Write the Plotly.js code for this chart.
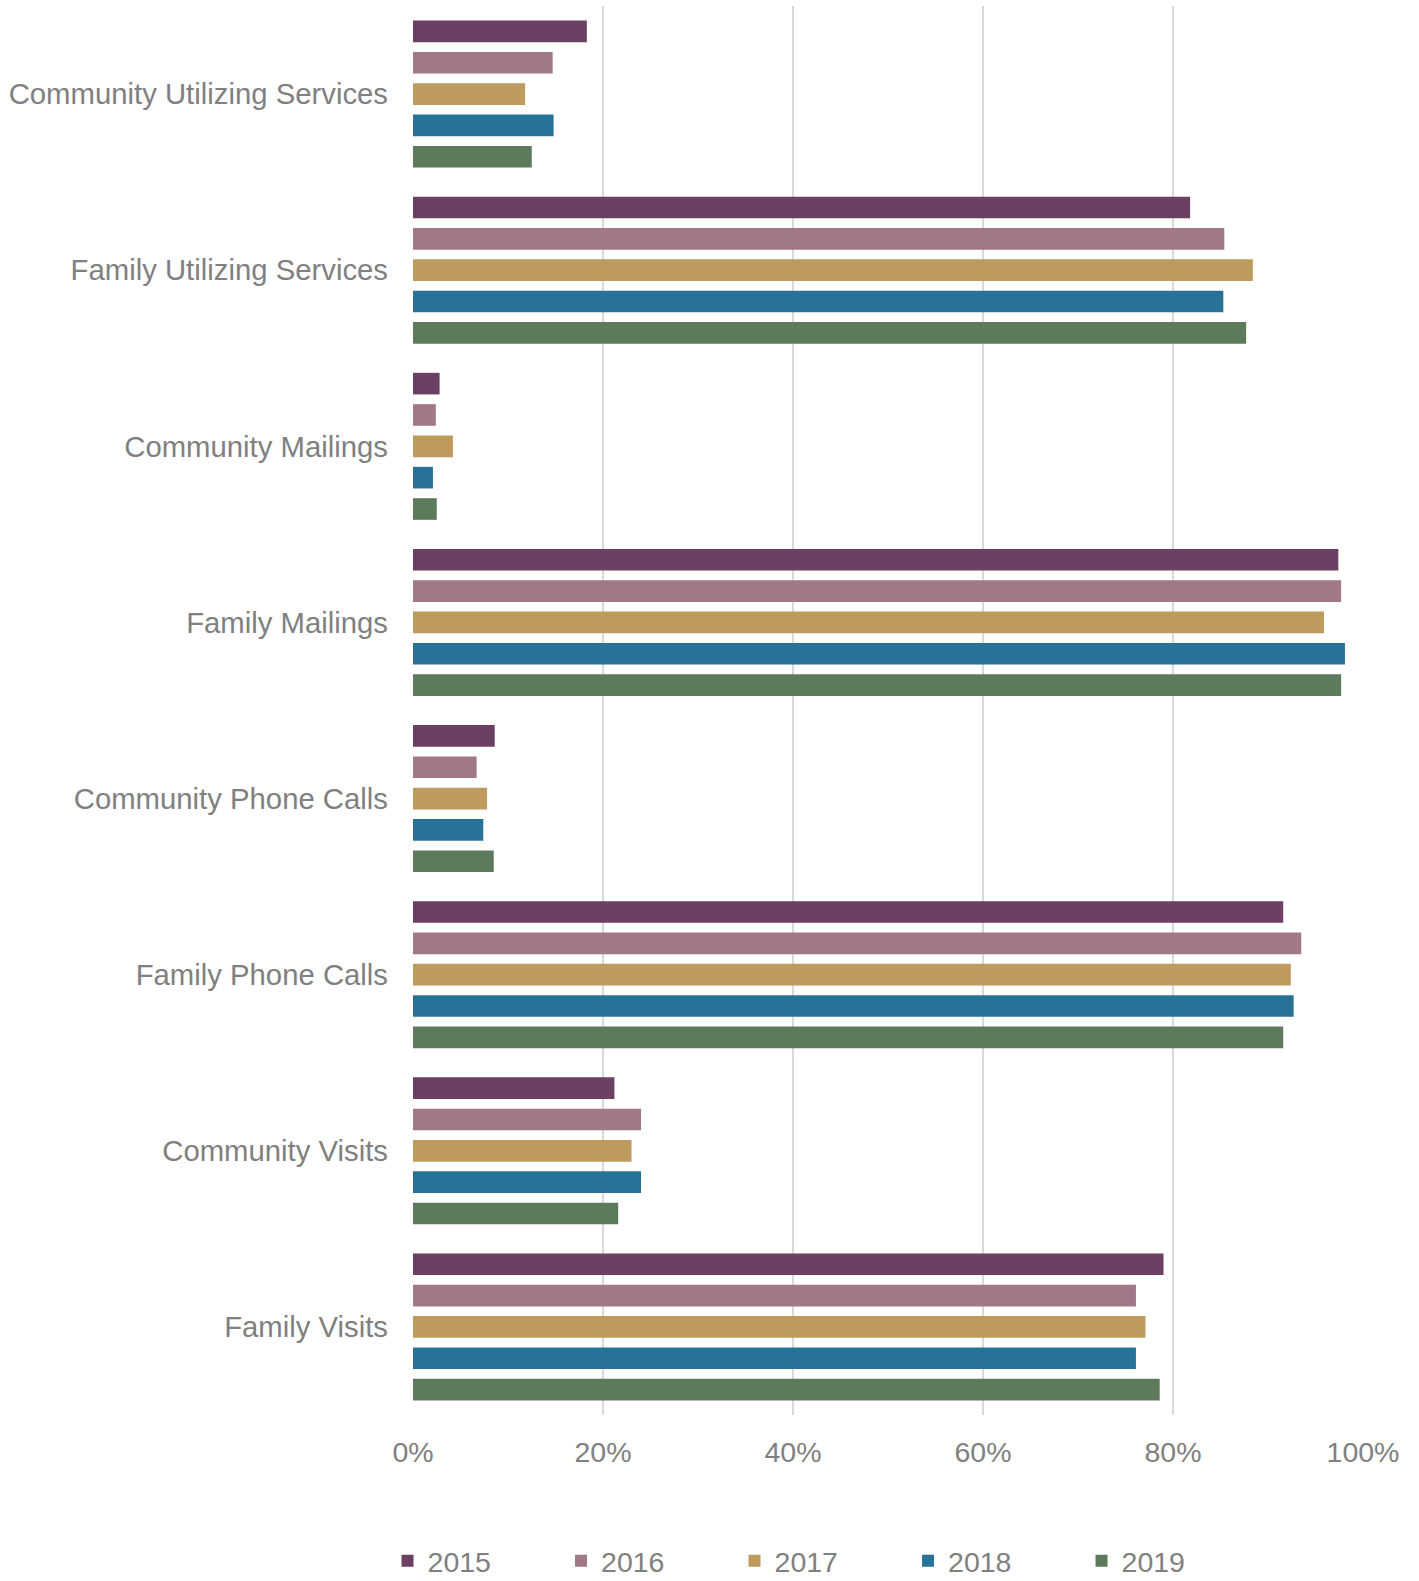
<!DOCTYPE html>
<html>
<head>
<meta charset="utf-8">
<script src="https://cdn.plot.ly/plotly-3.0.1.min.js"></script>
<style>
html, body { margin: 0; padding: 0; background: #ffffff; }
#chart { width: 1419px; height: 1581px; }
</style>
</head>
<body>
<div id="chart"></div>
<script>
const categories = [
  "Community Utilizing Services",
  "Family Utilizing Services",
  "Community Mailings",
  "Family Mailings",
  "Community Phone Calls",
  "Family Phone Calls",
  "Community Visits",
  "Family Visits"
];
const years = ["2015", "2016", "2017", "2018", "2019"];
const values2015 = [0.183, 0.818, 0.028, 0.974, 0.086, 0.916, 0.212, 0.790];
const values2016 = [0.147, 0.854, 0.024, 0.977, 0.067, 0.935, 0.240, 0.761];
const values2017 = [0.118, 0.884, 0.042, 0.959, 0.078, 0.924, 0.230, 0.771];
const values2018 = [0.148, 0.853, 0.021, 0.981, 0.074, 0.927, 0.240, 0.761];
const values2019 = [0.125, 0.877, 0.025, 0.977, 0.085, 0.916, 0.216, 0.786];
const seriesValues = [values2015, values2016, values2017, values2018, values2019];
const colors = ["#6B4062", "#A07888", "#BE9A5C", "#287298", "#5E7A5C"];
const xTickValues = [0, 0.2, 0.4, 0.6, 0.8, 1.0];

const FONT = "'Liberation Sans', Arial, sans-serif";
const GRAY = "#808080";

const traces = years.map((yr, i) => ({
  type: "bar",
  orientation: "h",
  name: yr,
  y: categories,
  x: seriesValues[i],
  marker: { color: colors[i], line: { width: 0 } },
  hoverinfo: "x+y+name"
}));

const layout = {
  width: 1419,
  height: 1581,
  margin: { l: 413, r: 56, t: 6, b: 166, pad: 0 },
  paper_bgcolor: "#ffffff",
  plot_bgcolor: "#ffffff",
  font: { family: FONT, color: GRAY, size: 28.5 },
  barmode: "group",
  bargap: 0.11,
  bargroupgap: 0.31,
  showlegend: true,
  legend: {
    orientation: "h",
    xref: "container",
    x: 0.2731,
    xanchor: "left",
    yref: "container",
    y: 0.0125,
    yanchor: "middle",
    font: { family: FONT, color: GRAY, size: 28.5 },
    entrywidth: 128.5,
    entrywidthmode: "pixels",
    itemwidth: 30,
    traceorder: "normal"
  },
  xaxis: {
    range: [0, 1.0],
    tickvals: xTickValues,
    tickformat: ".0%",
    showgrid: true,
    gridcolor: "#d9d9d9",
    gridwidth: 2,
    zeroline: false,
    showline: false,
    ticks: "",
    ticklabelstandoff: 17,
    tickfont: { family: FONT, color: GRAY, size: 28.5 },
    fixedrange: true
  },
  yaxis: {
    type: "category",
    autorange: "reversed",
    showgrid: false,
    zeroline: false,
    showline: false,
    ticks: "",
    ticklabelstandoff: 24,
    tickfont: { family: FONT, color: GRAY, size: 29.3 },
    fixedrange: true
  }
};

Plotly.newPlot("chart", traces, layout, { displayModeBar: false, staticPlot: true });
</script>
</body>
</html>
